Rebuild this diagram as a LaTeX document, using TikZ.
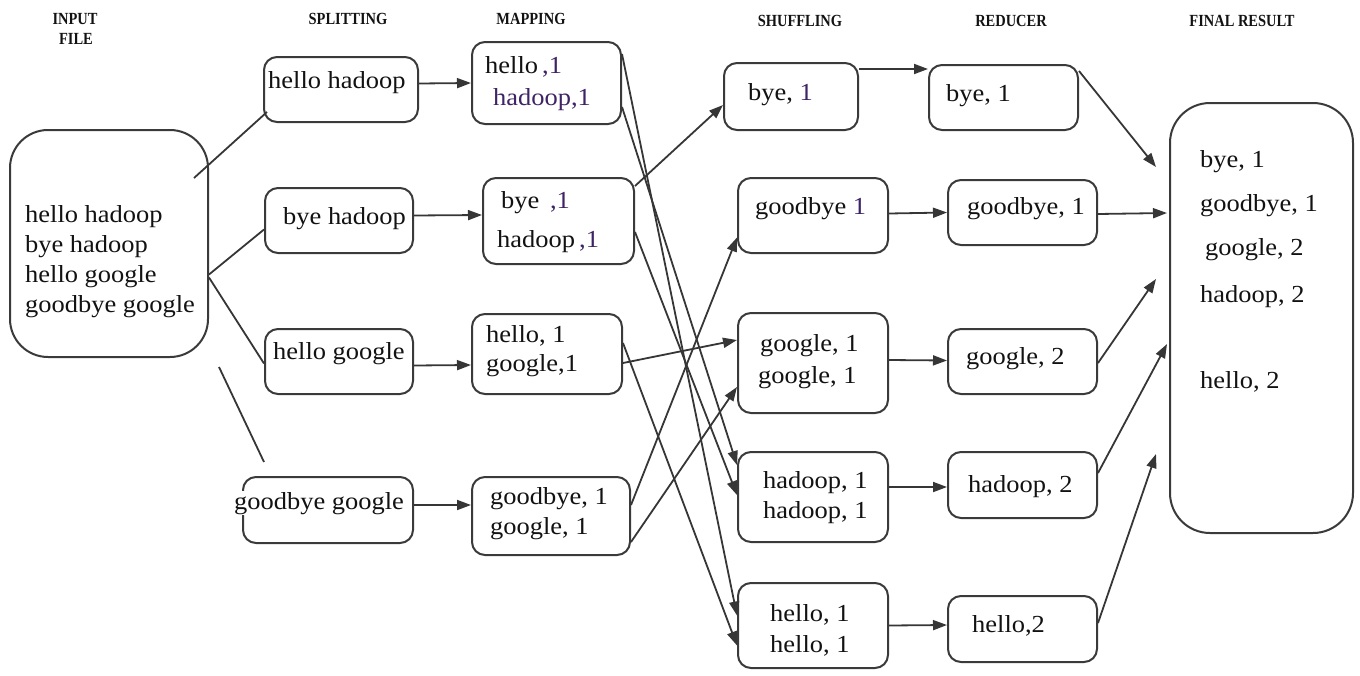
\documentclass[tikz,border=0pt]{standalone}
\usepackage{fontspec}
\setmainfont{Liberation Serif}
\newfontfamily\bodyfont{Liberation Serif}[FakeStretch=1.08]
\newfontfamily\hdrfont{Liberation Serif}[FakeStretch=0.85]
\usetikzlibrary{arrows.meta,calc}
\definecolor{edge}{HTML}{3A3A3A}
\definecolor{ink}{HTML}{121212}
\definecolor{purp}{HTML}{3E2466}
\begin{document}
\begin{tikzpicture}[x=1pt,y=-1pt,
  box/.style={draw=edge, line width=2pt, rounded corners=13pt, inner sep=0pt},
  txt/.style={anchor=base west, inner sep=0pt, text=ink, font=\bodyfont\fontsize{24.5}{30}\selectfont},
  hdr/.style={anchor=base, inner sep=0pt, text=ink, font=\hdrfont\bfseries\fontsize{17}{17}\selectfont},
  link/.style={draw=ink!85, line width=1.8pt},
  arr/.style={link, -{Triangle[length=14pt,width=10pt]}},
]
\useasboundingbox (0,0) rectangle (1360,675);

% headers
\node[hdr] (hIn)  at (75,24)   {INPUT};
\node[hdr] (hFi)  at (76,44)   {FILE};
\node[hdr] (hSp)  at (348,24)  {SPLITTING};
\node[hdr] (hMa)  at (531,24)  {MAPPING};
\node[hdr] (hSh)  at (800,26)  {SHUFFLING};
\node[hdr] (hRe)  at (1011,26) {REDUCER};
\node[hdr] (hFR)  at (1242,26) {FINAL RESULT};

% boxes
\node[box, rounded corners=38pt, minimum width=198pt, minimum height=227pt] (input) at (109,243.5) {};
\node[box, minimum width=154pt, minimum height=65pt] (s1) at (341,89.5) {};
\node[box, minimum width=148pt, minimum height=65pt] (s2) at (339,220.5) {};
\node[box, minimum width=148pt, minimum height=65pt] (s3) at (339,361.5) {};
\node[box, minimum width=170pt, minimum height=66pt] (s4) at (328,510) {};
\node[box, minimum width=149pt, minimum height=82pt] (m1) at (546.5,83) {};
\node[box, minimum width=151pt, minimum height=86pt] (m2) at (558.5,221) {};
\node[box, minimum width=150pt, minimum height=80pt] (m3) at (547,354) {};
\node[box, minimum width=158pt, minimum height=78pt] (m4) at (551,516) {};
\node[box, minimum width=134pt, minimum height=67pt] (h1) at (791,96.5) {};
\node[box, minimum width=150pt, minimum height=75pt] (h2) at (813,215.5) {};
\node[box, minimum width=150pt, minimum height=100pt] (h3) at (813,363) {};
\node[box, minimum width=150pt, minimum height=90pt] (h4) at (813,497) {};
\node[box, minimum width=150pt, minimum height=85pt] (h5) at (813,625.5) {};
\node[box, minimum width=149pt, minimum height=65pt] (r1) at (1003.5,97.5) {};
\node[box, minimum width=149pt, minimum height=65pt] (r2) at (1022.5,212.5) {};
\node[box, minimum width=149pt, minimum height=65pt] (r3) at (1022.5,361.5) {};
\node[box, minimum width=149pt, minimum height=66pt] (r4) at (1022.5,485) {};
\node[box, minimum width=149pt, minimum height=66pt] (r5) at (1022.5,629) {};
\node[box, rounded corners=40pt, minimum width=183pt, minimum height=430pt] (final) at (1261.5,318) {};

% texts
\node[txt] (i1) at (25,222) {hello hadoop};
\node[txt] (i2) at (25,252) {bye hadoop};
\node[txt] (i3) at (25,282) {hello google};
\node[txt] (i4) at (25,312) {goodbye google};
\node[txt] (s1t) at (268,88) {hello hadoop};
\node[txt] (s2t) at (283,224) {bye hadoop};
\node[txt] (s3t) at (273,359) {hello google};
\node[txt, fill=white, inner sep=1pt] (s4t) at (233,509) {goodbye google};
\node[txt] (m1a) at (485,73) {hello\,{\color{purp},1}};
\node[txt, text=purp] (m1b) at (493,105) {hadoop,1};
\node[txt] (m2a) at (501,208) {bye\ \,{\color{purp},1}};
\node[txt] (m2b) at (497,247) {hadoop\,{\color{purp},1}};
\node[txt] (m3a) at (486,342) {hello, 1};
\node[txt] (m3b) at (486,371) {google,1};
\node[txt] (m4a) at (490,504) {goodbye, 1};
\node[txt] (m4b) at (490,534) {google, 1};
\node[txt] (h1t) at (748,100) {bye, {\color{purp}1}};
\node[txt] (h2t) at (755,214) {goodbye {\color{purp}1}};
\node[txt] (h3a) at (760,351) {google, 1};
\node[txt] (h3b) at (758,383) {google, 1};
\node[txt] (h4a) at (763,488) {hadoop, 1};
\node[txt] (h4b) at (763,518) {hadoop, 1};
\node[txt] (h5a) at (770,621) {hello, 1};
\node[txt] (h5b) at (770,652) {hello, 1};
\node[txt] (r1t) at (946,101) {bye, 1};
\node[txt] (r2t) at (967,214) {goodbye, 1};
\node[txt] (r3t) at (966,364) {google, 2};
\node[txt] (r4t) at (968,492) {hadoop, 2};
\node[txt] (r5t) at (972,632) {hello,2};
\node[txt] (f1) at (1200,167) {bye, 1};
\node[txt] (f2) at (1200,211) {goodbye, 1};
\node[txt] (f3) at (1205,255) {google, 2};
\node[txt] (f4) at (1200,302) {hadoop, 2};
\node[txt] (f5) at (1200,388) {hello, 2};

% input -> splitting (plain lines)
\draw[link] ($(input.north east)+(-15,49)$) -- ($(s1.south west)+(4,-11)$);
\draw[link] ($(input.east)+(0,31)$) -- ($(s2.west)+(0,9)$);
\draw[link] ($(input.east)+(0,34)$) -- ($(s3.west)+(0,2)$);
\draw[link] ($(input.south east)+(10,9)$) -- ($(s4.north west)+(22,-14)$);

% splitting -> mapping
\draw[arr] ($(s1.east)+(0,-6)$) -- (m1.west);
\draw[arr] ($(s2.east)+(0,-5)$) -- ($(m2.west)+(0,-6)$);
\draw[arr] ($(s3.east)+(0,4)$) -- ($(m3.west)+(0,11)$);
\draw[arr] ($(s4.east)+(0,-5)$) -- ($(m4.west)+(0,-11)$);

% mapping -> shuffling
\draw[arr] ($(m1.north east)+(0,13)$) -- ($(h5.west)+(0,-10)$);
\draw[arr] ($(m1.east)+(0,24)$) -- ($(h4.west)+(0,-32)$);
\draw[arr] ($(m2.north east)+(0,9)$) -- ($(h1.west)+(0,8.5)$);
\draw[arr] ($(m2.east)+(0,11)$) -- ($(h4.west)+(0,-2)$);
\draw[arr] ($(m3.east)+(0,-11)$) -- ($(h5.west)+(0,20)$);
\draw[arr] ($(m3.east)+(0,9)$) -- ($(h3.west)+(0,-23)$);
\draw[arr] ($(m4.east)+(0,-11)$) -- ($(h2.west)+(0,22)$);
\draw[arr] ($(m4.east)+(0,26)$) -- ($(h3.west)+(0,24)$);

% shuffling -> reducer
\draw[arr] ($(h1.north east)+(0,7)$) -- ($(r1.north west)+(0,5)$);
\draw[arr] ($(h2.east)+(0,-2)$) -- (r2.west);
\draw[arr] ($(h3.east)+(0,-3)$) -- ($(r3.west)+(0,-1)$);
\draw[arr] ($(h4.east)+(0,-10)$) -- ($(r4.west)+(0,2)$);
\draw[arr] (h5.east) -- ($(r5.west)+(0,-4)$);

% reducer -> final
\draw[arr] ($(r1.north east)+(0,7)$) -- ($(final.north west)+(-13,65)$);
\draw[arr] ($(r2.east)+(0,1.5)$) -- ($(final.north west)+(-2,111)$);
\draw[arr] ($(r3.east)+(0,1.5)$) -- ($(final.north west)+(-13,177)$);
\draw[arr] ($(r4.east)+(0,-12)$) -- ($(final.north west)+(-2,242)$);
\draw[arr] ($(r5.east)+(0,-6)$) -- ($(final.north west)+(-13,352)$);
\end{tikzpicture}
\end{document}
